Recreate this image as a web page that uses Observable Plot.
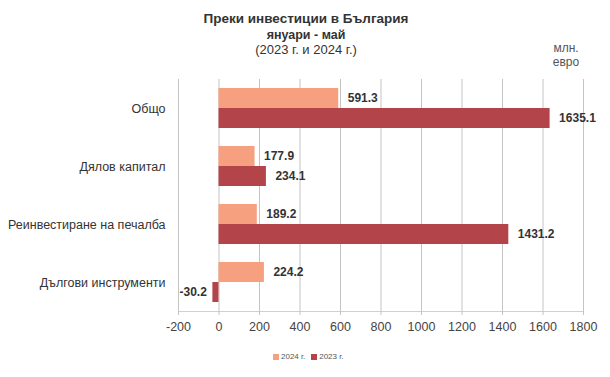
<!DOCTYPE html>
<html><head><meta charset="utf-8">
<script src="https://cdn.jsdelivr.net/npm/d3@7"></script>
<script src="https://cdn.jsdelivr.net/npm/@observablehq/plot@0.6"></script>
<style>
body{margin:0;background:#fff;font-family:"Liberation Sans",Arial,sans-serif;}
#wrap{position:relative;width:610px;height:377px;}
.t{position:absolute;left:0;width:612px;text-align:center;color:#333;}
#unit{position:absolute;left:548px;top:41px;font-size:12px;color:#555;line-height:14px;text-align:center;width:36px;}
#legend{position:absolute;left:273px;top:352px;font-size:8px;color:#555;display:flex;gap:6px;align-items:center;}
#legend span.sw{display:inline-block;width:6px;height:6px;margin-right:2px;vertical-align:middle;}
</style></head>
<body><div id="wrap">
<div class="t" style="top:11px;font-size:13.5px;font-weight:bold;">Преки инвестиции в България</div>
<div class="t" style="top:28px;font-size:12.5px;font-weight:bold;">януари - май</div>
<div class="t" style="top:42px;font-size:13px;">(2023 г. и 2024 г.)</div>
<div id="unit">млн.<br>евро</div>
<div id="chart"></div>
<div id="legend"></div>
</div>
<script>
const categories = ["Общо", "Дялов капитал", "Реинвестиране на печалба", "Дългови инструменти"];
const seriesNames = ["2024 г.", "2023 г."];
const values2024 = [591.3, 177.9, 189.2, 224.2];
const values2023 = [1635.1, 234.1, 1431.2, -30.2];
const xTicks = [-200, 0, 200, 400, 600, 800, 1000, 1200, 1400, 1600, 1800];
const colors = ["#F6A07F", "#B3454A"];

const rows = [];
categories.forEach((c, i) => {
  rows.push({cat: c, series: seriesNames[0], value: values2024[i]});
  rows.push({cat: c, series: seriesNames[1], value: values2023[i]});
});

const chart = Plot.plot({
  width: 610, height: 377,
  marginTop: 78, marginBottom: 65, marginLeft: 178, marginRight: 27,
  style: {fontFamily: "Liberation Sans, Arial, sans-serif", background: "transparent"},
  x: {domain: [-200, 1800]},
  fy: {domain: categories, padding: 0},
  y: {domain: seriesNames, paddingInner: 0, paddingOuter: 0.4, axis: null},
  color: {domain: seriesNames, range: colors},
  marks: [
    Plot.gridX(xTicks, {stroke: "#c4c4c4", strokeOpacity: 1}),
    Plot.frame({anchor: "bottom", facetAnchor: "bottom", stroke: "#d0d0d0"}),
    Plot.axisX(xTicks, {tickSize: 4, tickPadding: 7, fontSize: 12.5, stroke: "#c4c4c4", color: "#444", label: null, tickFormat: d => String(d)}),
    Plot.axisFy({anchor: "left", tickSize: 0, tickPadding: 13, fontSize: 12.5, color: "#333", label: null}),
    Plot.barX(rows, {fy: "cat", y: "series", x: "value", fill: "series"}),
    Plot.text(rows.filter(d => d.value >= 0), {fy: "cat", y: "series", x: "value", text: d => d.value.toFixed(1), textAnchor: "start", dx: 9, fontWeight: "bold", fontSize: 12, fill: "#333"}),
    Plot.text(rows.filter(d => d.value < 0), {fy: "cat", y: "series", x: "value", text: d => d.value.toFixed(1), textAnchor: "end", dx: -6, fontWeight: "bold", fontSize: 12, fill: "#333"})
  ]
});
document.getElementById("chart").appendChild(chart);

const lg = document.getElementById("legend");
seriesNames.forEach((s, i) => {
  const el = document.createElement("div");
  el.innerHTML = `<span class="sw" style="background:${colors[i]}"></span>${s}`;
  lg.appendChild(el);
});
</script>
</body></html>
